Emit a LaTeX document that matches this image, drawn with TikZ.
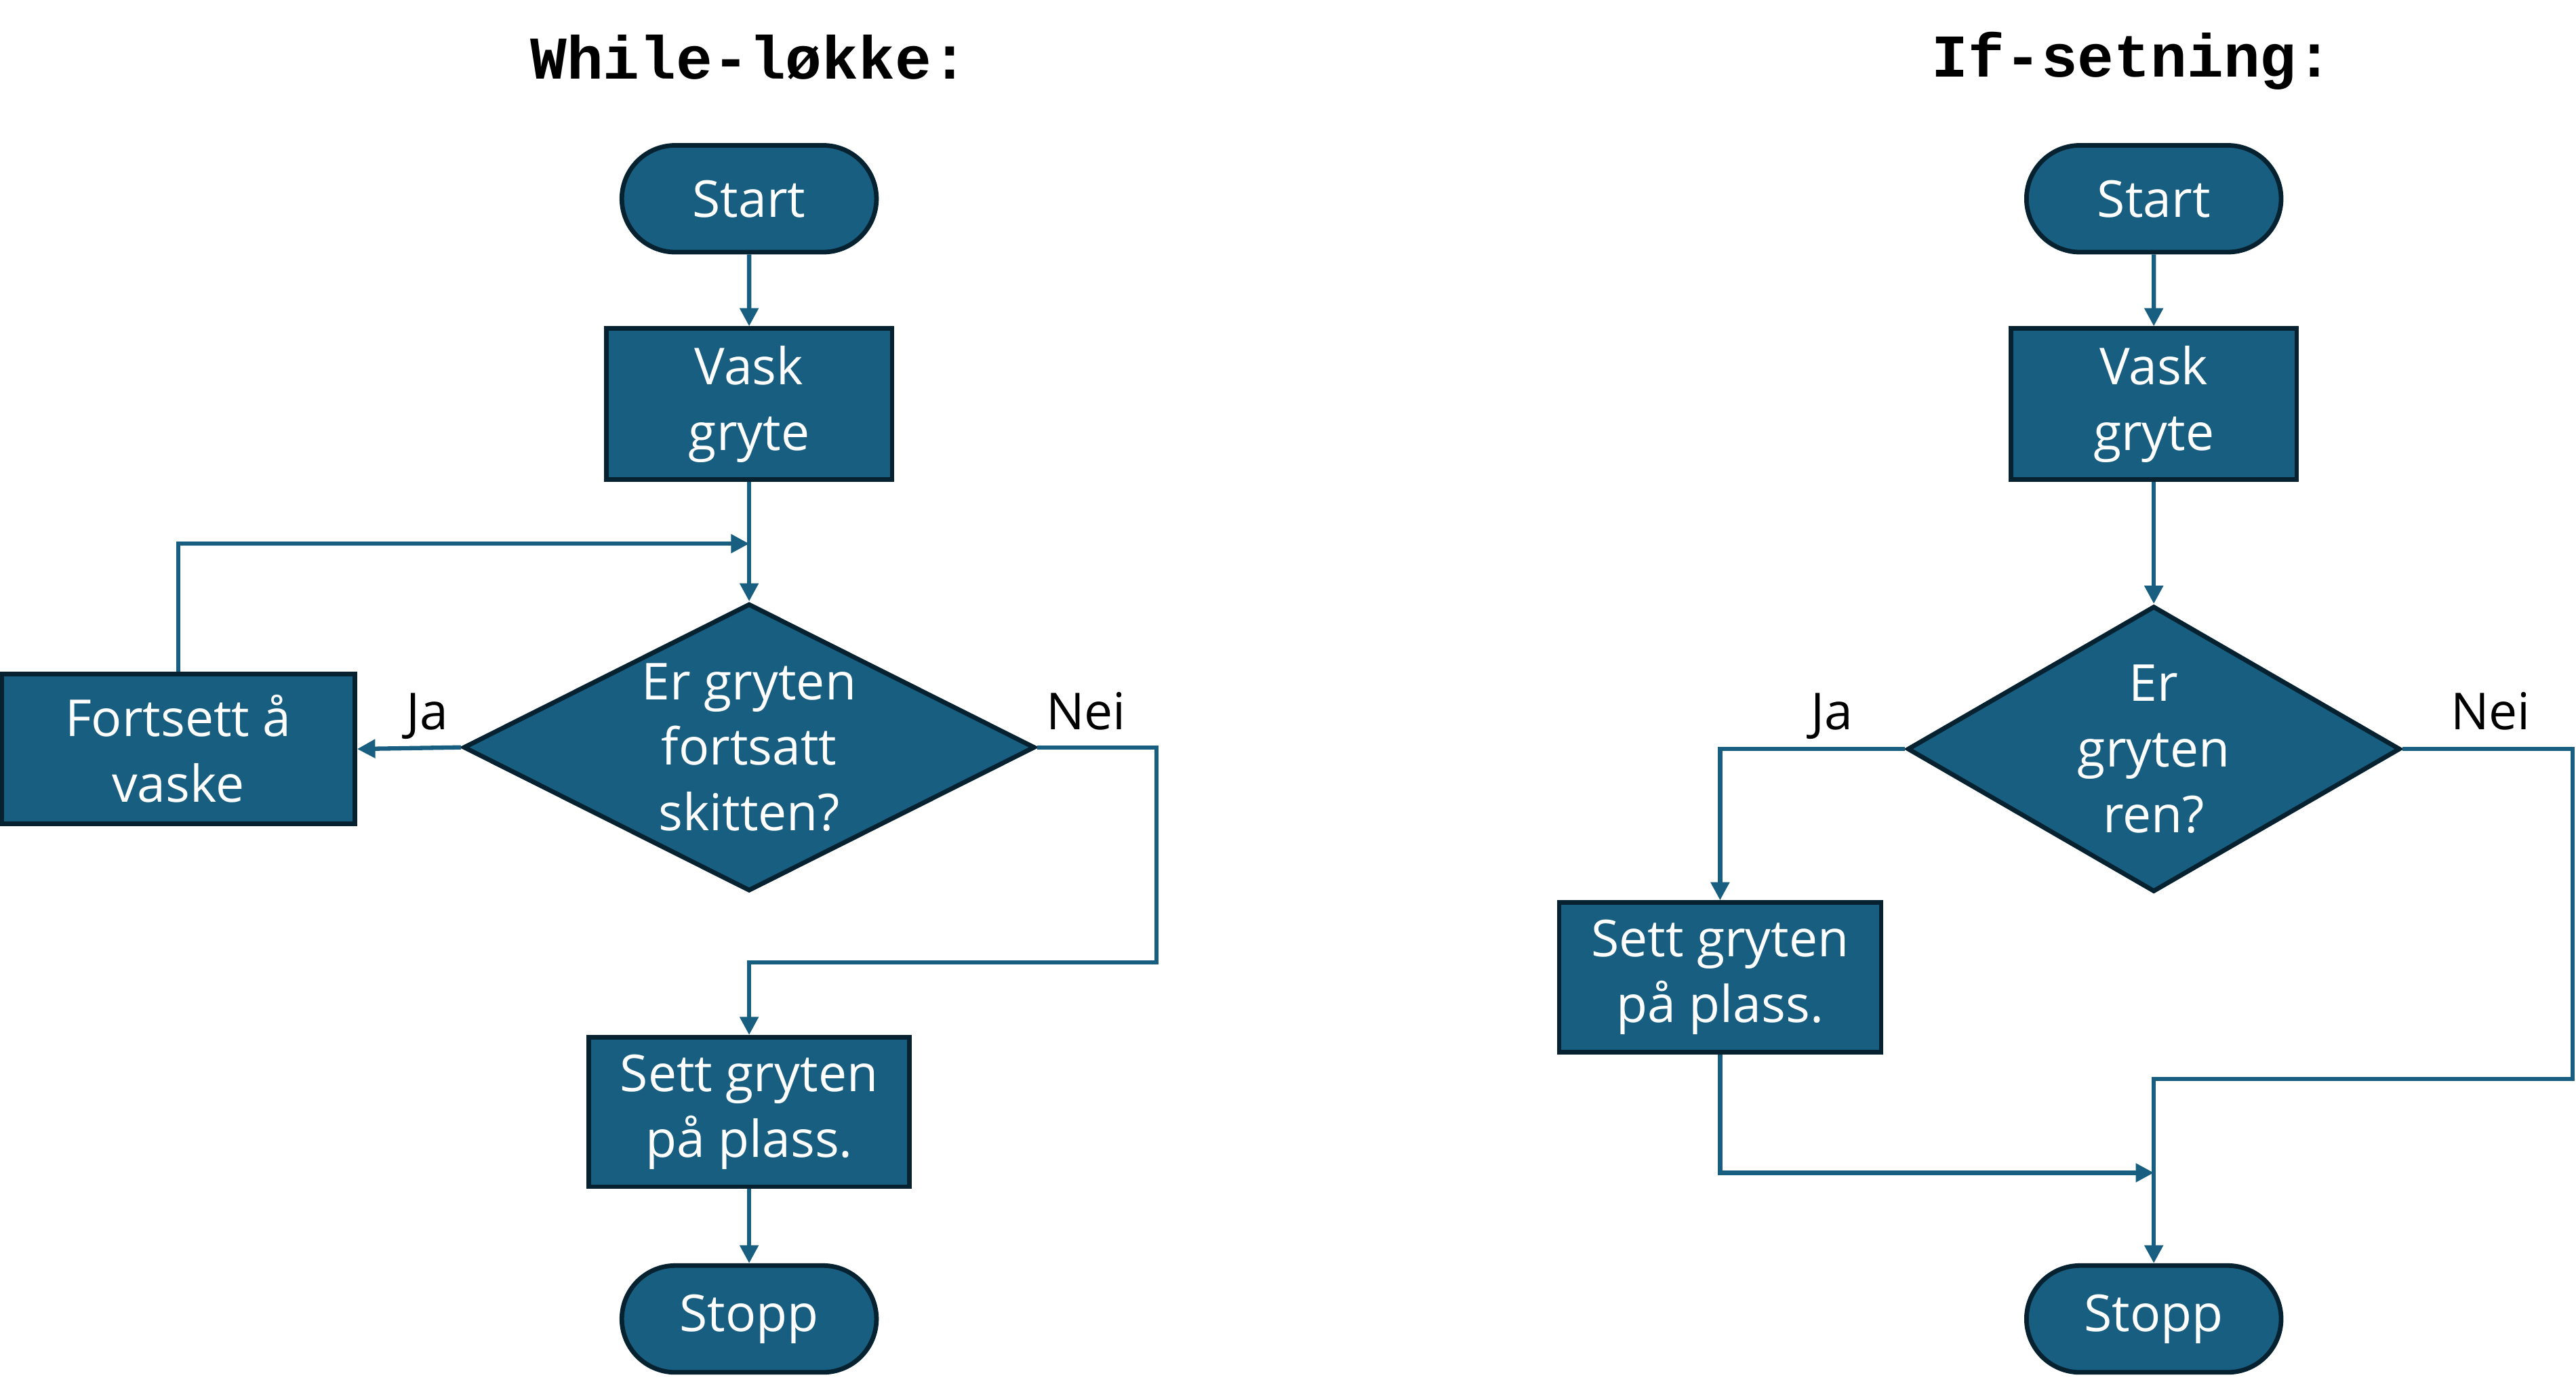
\documentclass[tikz,border=0pt]{standalone}
\usepackage{fontspec}
\setmainfont{Open Sans}
\newfontfamily\codefont{Liberation Mono}
\usepackage{xcolor}
\usetikzlibrary{shapes.geometric,shapes.misc,arrows.meta,positioning}

\definecolor{flowblue}{HTML}{175E80}
\definecolor{flowedge}{HTML}{06212F}

\tikzset{
    terminal/.style={rounded rectangle, draw=flowedge, fill=flowblue, line width=2.8pt,
        text=white, minimum width=155pt, minimum height=65pt, inner sep=0pt},
    process/.style={rectangle, draw=flowedge, fill=flowblue, line width=2.8pt,
        text=white, align=center, inner sep=0pt},
    decision/.style={diamond, draw=flowedge, fill=flowblue, line width=2.8pt,
        text=white, align=center, inner sep=-30pt},
    flow/.style={draw=flowblue, line width=2.6pt, -{Triangle[length=11pt,width=11pt]}},
    answer/.style={text=black, inner sep=0pt, anchor=base},
    heading/.style={font=\codefont\bfseries\fontsize{37}{40}\selectfont, inner sep=0pt}
}

\begin{document}
\begin{tikzpicture}[x=1pt, y=-1pt, font=\fontsize{31}{40}\selectfont]
            \useasboundingbox (0,0) rectangle (1568,843.8);

            % While-loop
            \node[heading] (title1) at (456,35) {While-løkke:};

            \node[terminal] (s1) at (456,121) {Start};
            \node[process, minimum width=174pt, minimum height=92pt] (v1) at (456,246) {Vask\\gryte};
            \node[decision, minimum width=348pt, minimum height=175pt] (d1) at (456,455) {Er gryten\\fortsatt\\skitten?};
            \node[process, minimum width=215pt, minimum height=91pt] (f1) at (108.5,456) {Fortsett å\\vaske};
            \node[process, minimum width=195pt, minimum height=91pt] (p1) at (456,677) {Sett gryten\\på plass.};
            \node[terminal] (t1) at (456,803) {Stopp};

            \node[answer] (ja1) at (260,444) {Ja};
            \node[answer] (nei1) at (661,444) {Nei};

            \coordinate (j1) at (456,331);
            \coordinate (n1) at (704,586);

            \draw[flow] (s1) -- (v1);
            \draw[flow] (v1) -- (d1);
            \draw[flow] (d1.west) -- (f1.east);
            \draw[flow] (f1.north) |- (j1);
            \draw[flow] (d1.east) -| (n1) -| (p1.north);
            \draw[flow] (p1) -- (t1);

            % If-statement
            \node[heading] (title2) at (1298,37) {If-setning:};

            \node[terminal] (s2) at (1311,121) {Start};
            \node[process, minimum width=174pt, minimum height=92pt] (v2) at (1311,246) {Vask\\gryte};
            \node[decision, minimum width=300pt, minimum height=174pt] (d2) at (1311,456) {Er\\gryten\\ren?};
            \node[process, minimum width=196pt, minimum height=91pt] (p2) at (1047,595) {Sett gryten\\på plass.};
            \node[terminal] (t2) at (1311,803) {Stopp};

            \node[answer] (ja2) at (1115,444) {Ja};
            \node[answer] (nei2) at (1516,444) {Nei};

            \coordinate (j2) at (1311,714);
            \coordinate (n2) at (1566,657);

            \draw[flow] (s2) -- (v2);
            \draw[flow] (v2) -- (d2);
            \draw[flow] (d2.west) -| (p2.north);
            \draw[flow] (p2.south) |- (j2);
            \draw[flow] (d2.east) -| (n2) -| (t2.north);
\end{tikzpicture}
\end{document}
